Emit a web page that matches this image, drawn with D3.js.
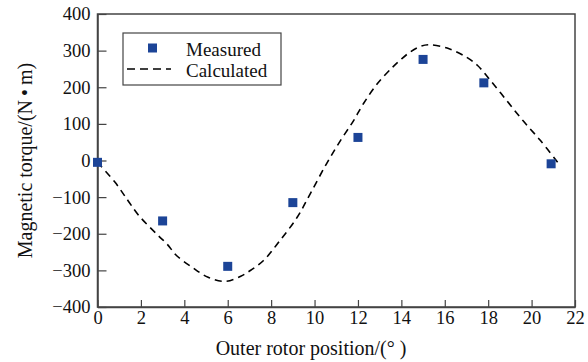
<!DOCTYPE html>
<html><head><meta charset="utf-8">
<script src="https://cdn.jsdelivr.net/npm/d3@7"></script>
<style>body{margin:0;background:#fff;} svg{display:block;}</style>
</head><body>
<script>
const measuredX = [0, 3, 6, 9, 12, 15, 17.8, 20.9];
const measuredY = [-5, -165, -289, -115, 63, 276, 212, -9];
const calcX = [0, 0.8, 1.4, 1.9, 2.8, 3.2, 3.65, 4.35, 5.1, 5.9, 6.6, 7.1, 7.65, 8.4, 9.2, 9.8, 10.55, 11.2, 11.8, 12.25, 12.9, 13.6, 14.0, 14.4, 14.85, 15.3, 16.2, 17.0, 17.5, 18.1, 18.85, 19.6, 20.4, 21.2];
const calcY = [-5, -59, -109, -150, -205, -228, -260, -291, -319, -330, -316, -298, -273, -219, -155, -91, -9, 55, 109, 155, 210, 255, 277, 296, 311, 316, 305, 282, 260, 219, 164, 109, 55, -5];
const xTicks = [0, 2, 4, 6, 8, 10, 12, 14, 16, 18, 20, 22];
const yTicks = [-400, -300, -200, -100, 0, 100, 200, 300, 400];
const legendLabels = ["Measured", "Calculated"];
const xTitle = "Outer rotor position/(° )";
const yTitle = "Magnetic torque/(N\u2009•\u2009m)";

const W = 588, H = 362;
const m = {left: 97.5, right: 13, top: 14, bottom: 55};
const svg = d3.select("body").append("svg").attr("width", W).attr("height", H);
const x = d3.scaleLinear().domain([0, 22]).range([m.left, W - m.right]);
const y = d3.scaleLinear().domain([-400, 400]).range([H - m.bottom, m.top]);
const font = "'Liberation Serif', 'Times New Roman', serif";
const axisColor = "#444";

// frame
svg.append("rect").attr("x", x(0)).attr("y", y(400)).attr("width", x(22) - x(0)).attr("height", y(-400) - y(400))
  .attr("fill", "none").attr("stroke", axisColor).attr("stroke-width", 1.5);

const xAxis = svg.append("g").attr("transform", `translate(0,${y(-400)})`)
  .call(d3.axisBottom(x).tickValues(xTicks).tickSizeInner(-7).tickSizeOuter(0).tickPadding(4).tickFormat(d3.format("d")));
const yAxis = svg.append("g").attr("transform", `translate(${x(0)},0)`)
  .call(d3.axisLeft(y).tickValues(yTicks).tickSizeInner(-9).tickSizeOuter(0).tickPadding(7).tickFormat(d => d < 0 ? "\u2212" + Math.abs(d) : d));
[xAxis, yAxis].forEach(g => {
  g.select(".domain").attr("stroke", axisColor).attr("stroke-width", 1.5);
  g.selectAll(".tick line").attr("stroke", axisColor).attr("stroke-width", 1.2);
  g.selectAll("text").attr("font-family", font).attr("font-size", 18.5).attr("fill", "#111");
});

// axis titles
svg.append("text").attr("x", 311).attr("y", 355).attr("text-anchor", "middle")
  .attr("font-family", font).attr("font-size", 20).attr("fill", "#111").text(xTitle);
svg.append("text").attr("transform", `translate(32,${(y(400) + y(-400)) / 2}) rotate(-90)`).attr("text-anchor", "middle")
  .attr("font-family", font).attr("font-size", 20).attr("fill", "#111").text(yTitle);

// calculated curve
const calc = calcX.map((v, i) => [v, calcY[i]]);
svg.append("path").datum(calc)
  .attr("d", d3.line().x(d => x(d[0])).y(d => y(d[1])).curve(d3.curveCatmullRom.alpha(0.5)))
  .attr("fill", "none").attr("stroke", "#000").attr("stroke-width", 1.6).attr("stroke-dasharray", "7,5");

// measured points
const ms = 9;
svg.selectAll("rect.pt").data(measuredX.map((v, i) => [v, measuredY[i]])).enter().append("rect")
  .attr("class", "pt").attr("x", d => x(d[0]) - ms / 2).attr("y", d => y(d[1]) - ms / 2)
  .attr("width", ms).attr("height", ms).attr("fill", "#1c4497");

// legend
const lg = svg.append("g");
lg.append("rect").attr("x", 123).attr("y", 33).attr("width", 158).attr("height", 52)
  .attr("fill", "#fff").attr("stroke", axisColor).attr("stroke-width", 1.2);
lg.append("rect").attr("x", 152.5 - ms / 2).attr("y", 48 - ms / 2).attr("width", ms).attr("height", ms).attr("fill", "#1c4497");
lg.append("line").attr("x1", 127).attr("x2", 171).attr("y1", 69).attr("y2", 69)
  .attr("stroke", "#000").attr("stroke-width", 1.6).attr("stroke-dasharray", "8,5");
lg.selectAll("text").data(legendLabels).enter().append("text")
  .attr("x", 186).attr("y", (d, i) => 56 + i * 21).attr("font-family", font).attr("font-size", 19).attr("fill", "#111").text(d => d);
</script>
</body></html>
